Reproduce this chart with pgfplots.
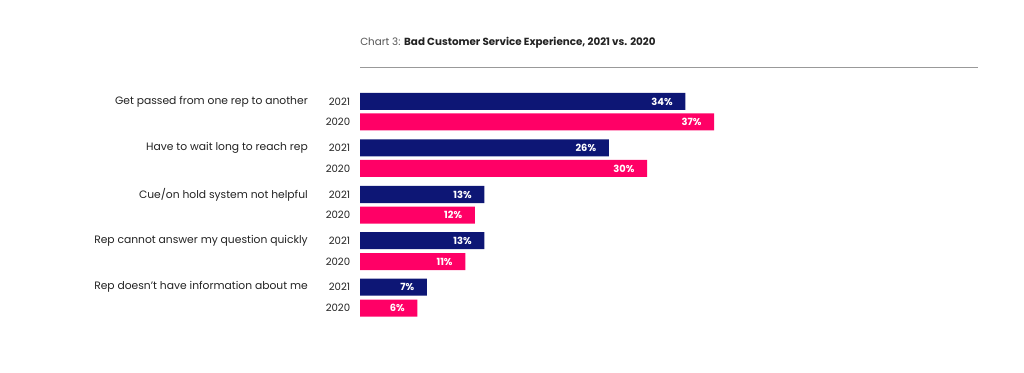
\documentclass[border=0pt]{standalone}
\usepackage{pgfplots}
\pgfplotsset{compat=1.18}
\usepackage{fontspec}
\setmainfont{Poppins}
\definecolor{navy}{HTML}{0D1675}
\definecolor{pink}{HTML}{FF0066}
\definecolor{txt}{HTML}{222222}
\definecolor{ttl}{HTML}{555555}
\tikzset{
  lab/.style={anchor=east,inner sep=0pt,text=txt,font=\fontsize{8.05}{9}\selectfont},
  yr/.style={anchor=east,inner sep=0pt,text=txt,font=\fontsize{7.6}{9}\selectfont},
}
\begin{document}
\begin{tikzpicture}[x=0.75pt,y=-0.75pt]
\path (0,0) rectangle (1024,373);
\node[anchor=west,inner sep=0pt,font=\fontsize{7.75}{9}\selectfont] at (360,43)
  {\textcolor{ttl}{Chart 3:} \textcolor{txt}{\textbf{Bad Customer Service Experience, 2021 vs. 2020}}};
\draw[color=gray!80,line width=0.75pt] (360,68) -- (978,68);
\begin{axis}[
  at={(360pt*0.75,0)}, anchor=north west,
  scale only axis, width=463.5pt, height=279.75pt,
  xmin=0, xmax=64.58, ymin=0, ymax=373, y dir=reverse,
  hide axis, clip=false,
  xbar, bar width=17,
  /pgf/number format/assume math mode=true,
  nodes near coords={\pgfmathprintnumber{\pgfplotspointmeta}\%},
  every node near coord/.append style={anchor=east, xshift=-6pt, text=white,
     font=\fontsize{7.4}{9}\selectfont\bfseries},
]
\addplot[fill=navy, draw=none, bar shift=0pt] coordinates {
(34,101.5) (26,148) (13,194.5) (13,240.5) (7,287)};
\addplot[fill=pink, draw=none, bar shift=0pt] coordinates {
(37,122) (30,168.5) (12,215) (11,261.5) (6,308)};
\node[lab] at (axis cs:-5.43,101.5) {Get passed from one rep to another};
\node[lab] at (axis cs:-5.43,148) {Have to wait long to reach rep};
\node[lab] at (axis cs:-5.43,194.5) {Cue/on hold system not helpful};
\node[lab] at (axis cs:-5.43,240.5) {Rep cannot answer my question quickly};
\node[lab] at (axis cs:-5.43,287) {Rep doesn't have information about me};
\node[yr] at (axis cs:-1.0,101.5) {2021};
\node[yr] at (axis cs:-1.0,148) {2021};
\node[yr] at (axis cs:-1.0,194.5) {2021};
\node[yr] at (axis cs:-1.0,240.5) {2021};
\node[yr] at (axis cs:-1.0,287) {2021};
\node[yr] at (axis cs:-1.0,122) {2020};
\node[yr] at (axis cs:-1.0,168.5) {2020};
\node[yr] at (axis cs:-1.0,215) {2020};
\node[yr] at (axis cs:-1.0,261.5) {2020};
\node[yr] at (axis cs:-1.0,308) {2020};
\end{axis}
\end{tikzpicture}
\end{document}
